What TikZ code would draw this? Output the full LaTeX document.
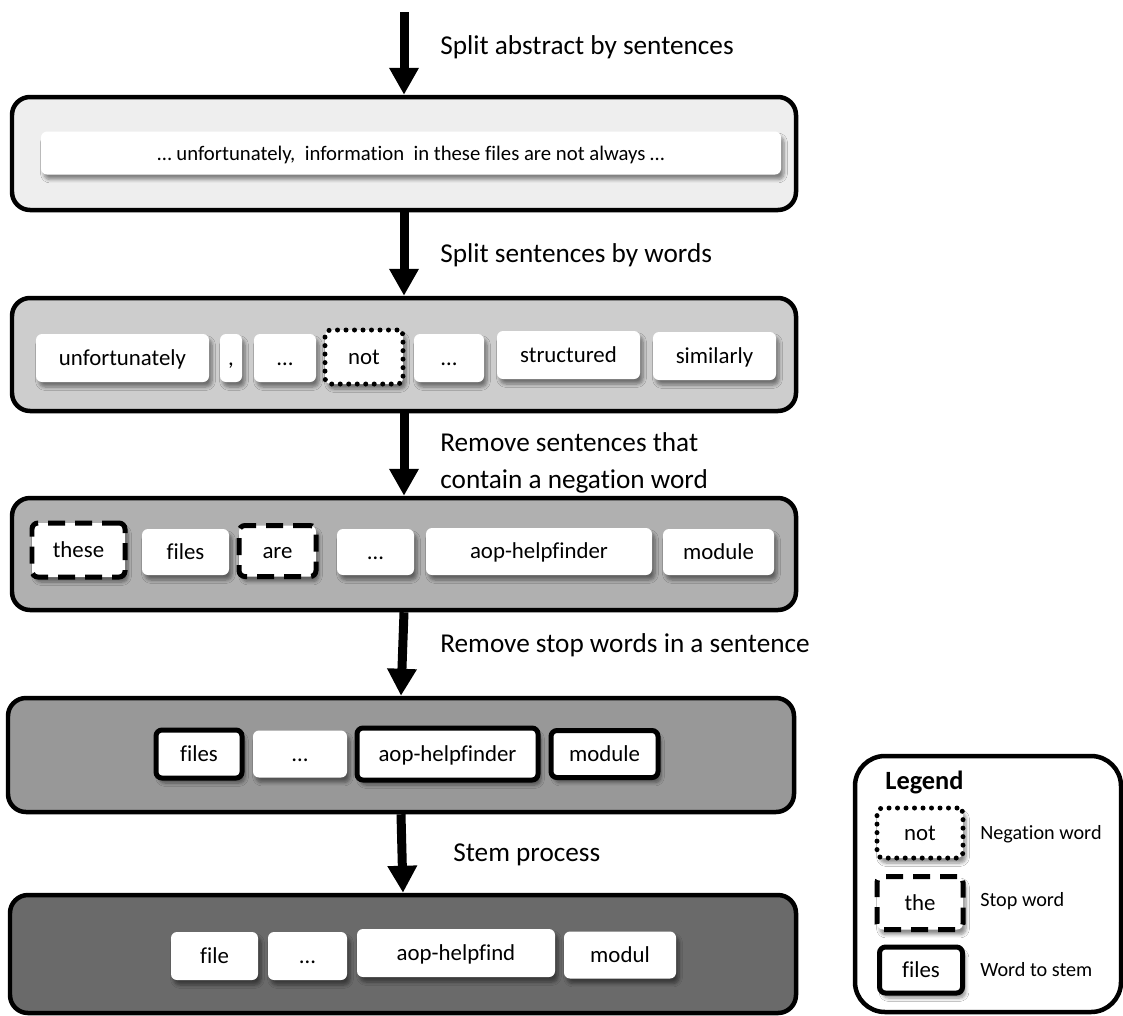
\documentclass[tikz,border=0pt]{standalone}
\usepackage{fontspec}
\setmainfont{Carlito}[Ligatures=NoCommon]
\usetikzlibrary{arrows.meta,shadows.blur}

\definecolor{stageA}{gray}{0.935}
\definecolor{stageB}{gray}{0.805}
\definecolor{stageC}{gray}{0.69}
\definecolor{stageD}{gray}{0.595}
\definecolor{stageE}{gray}{0.415}

\tikzset{
  stage/.style={draw=black, line width=0.09cm, rounded corners=0.36cm, inner sep=0pt},
  word/.style={fill=white, rounded corners=0.12cm, inner sep=0pt,
    font=\fontsize{13}{15}\selectfont, text height=1.9ex, text depth=0.2ex,
    blur shadow={shadow xshift=0.06cm, shadow yshift=-0.1cm, shadow blur steps=6, shadow opacity=45}},
  negword/.style={word, draw=black, line width=0.1cm, line cap=round, dash pattern=on 0pt off 0.17cm},
  stopword/.style={word, draw=black, line width=0.1cm, dash pattern=on 0.34cm off 0.2cm},
  stemword/.style={word, draw=black, line width=0.1cm},
  flow/.style={line width=0.18cm, -{Triangle[width=0.56cm,length=0.54cm]}},
  steplabel/.style={anchor=west, inner sep=0pt, align=left, font=\fontsize{15.5}{21}\selectfont},
  legendtext/.style={anchor=west, inner sep=0pt, font=\fontsize{11.5}{14}\selectfont}
}

\begin{document}
\begin{tikzpicture}[x=0.02cm, y=-0.02cm]
\useasboundingbox (0,0) rectangle (1123,1015);

% Drawing the stages
\node[stage, fill=stageA, minimum width=784*0.02cm, minimum height=113*0.02cm] (b1) at (404,153.5) {};
\node[stage, fill=stageB, minimum width=784*0.02cm, minimum height=113*0.02cm] (b2) at (404,354.5) {};
\node[stage, fill=stageC, minimum width=784*0.02cm, minimum height=112*0.02cm] (b3) at (404,554) {};
\node[stage, fill=stageD, minimum width=786*0.02cm, minimum height=114*0.02cm] (b4) at (401,755) {};
\node[stage, fill=stageE, minimum width=786*0.02cm, minimum height=118*0.02cm] (b5) at (403,954) {};

% Drawing the arrows
\coordinate (start) at (404,12);
\draw[flow] (start) -- (b1.north);
\draw[flow] (b1.south) -- (b2.north);
\draw[flow] (b2.south) -- (b3.north);
\draw[flow] (b3.south) -- (b4.north);
\draw[flow] (b4.south) -- (b5.north);

% Drawing the step labels
\node[steplabel] (l1) at (440,47) {Split abstract by sentences};
\node[steplabel] (l2) at (440,255) {Split sentences by words};
\node[steplabel] (l3) at (440,463) {Remove sentences that\\contain a negation word};
\node[steplabel] (l4) at (440,645) {Remove stop words in a sentence};
\node[steplabel] (l5) at (453,855) {Stem process};

% Stage 1: sentence
\node[word, font=\fontsize{11.8}{14}\selectfont, minimum width=740*0.02cm, minimum height=43*0.02cm] (s1) at (411,153) {\dots\ unfortunately,\ \ information\ \ in these files are not always \dots\hspace{0.7cm}};

% Stage 2: words
\node[word, minimum width=173*0.02cm, minimum height=48*0.02cm] (w21) at (122.5,358) {unfortunately};
\node[word, minimum width=22*0.02cm, minimum height=48*0.02cm] (w22) at (231,358) {,};
\node[word, minimum width=62*0.02cm, minimum height=48*0.02cm] (w23) at (285,358) {\dots};
\node[negword, minimum width=78*0.02cm, minimum height=54*0.02cm] (w24) at (364,357) {not};
\node[word, minimum width=70*0.02cm, minimum height=48*0.02cm] (w25) at (449,358) {\dots};
\node[word, minimum width=143*0.02cm, minimum height=48*0.02cm] (w26) at (568.5,355) {structured};
\node[word, minimum width=123*0.02cm, minimum height=48*0.02cm] (w27) at (714.5,356) {similarly};

% Stage 3: words
\node[stopword, minimum width=93*0.02cm, minimum height=54*0.02cm] (w31) at (78.5,550) {these};
\node[word, minimum width=87*0.02cm, minimum height=46*0.02cm] (w32) at (185.5,552) {files};
\node[stopword, minimum width=77*0.02cm, minimum height=51*0.02cm] (w33) at (277.5,551) {are};
\node[word, minimum width=77*0.02cm, minimum height=46*0.02cm] (w34) at (375.5,552) {\dots};
\node[word, minimum width=226*0.02cm, minimum height=47*0.02cm] (w35) at (539,551.5) {aop-helpfinder};
\node[word, minimum width=111*0.02cm, minimum height=46*0.02cm] (w36) at (718.5,552) {module};

% Stage 4: words
\node[stemword, minimum width=86*0.02cm, minimum height=48*0.02cm] (w41) at (199,754) {files};
\node[word, minimum width=94*0.02cm, minimum height=47*0.02cm] (w42) at (300,754) {\dots};
\node[stemword, minimum width=181*0.02cm, minimum height=52*0.02cm] (w43) at (447.5,754) {aop-helpfinder};
\node[stemword, minimum width=107*0.02cm, minimum height=47*0.02cm] (w44) at (604.5,754) {module};

% Stage 5: words
\node[word, minimum width=87*0.02cm, minimum height=48*0.02cm] (w51) at (214.5,956) {file};
\node[word, minimum width=79*0.02cm, minimum height=48*0.02cm] (w52) at (307.5,956) {\dots};
\node[word, minimum width=198*0.02cm, minimum height=48*0.02cm] (w53) at (456,953) {aop-helpfind};
\node[word, minimum width=112*0.02cm, minimum height=47*0.02cm] (w54) at (620,955) {modul};

% Drawing the legend
\node[stage, fill=white, rounded corners=0.6cm, minimum width=266*0.02cm, minimum height=256*0.02cm] (legend) at (988,884) {};
\node[anchor=west, inner sep=0pt, font=\bfseries\fontsize{15}{18}\selectfont] (legtitle) at (885,782) {Legend};
\node[negword, minimum width=86*0.02cm, minimum height=50*0.02cm] (k1) at (920,833) {not};
\node[stopword, minimum width=86*0.02cm, minimum height=53*0.02cm] (k2) at (920,903) {the};
\node[stemword, minimum width=83*0.02cm, minimum height=46*0.02cm] (k3) at (921,970) {files};
\node[legendtext] (t1) at (980,834) {Negation word};
\node[legendtext] (t2) at (980,901) {Stop word};
\node[legendtext] (t3) at (980,970) {Word to stem};
\end{tikzpicture}
\end{document}
